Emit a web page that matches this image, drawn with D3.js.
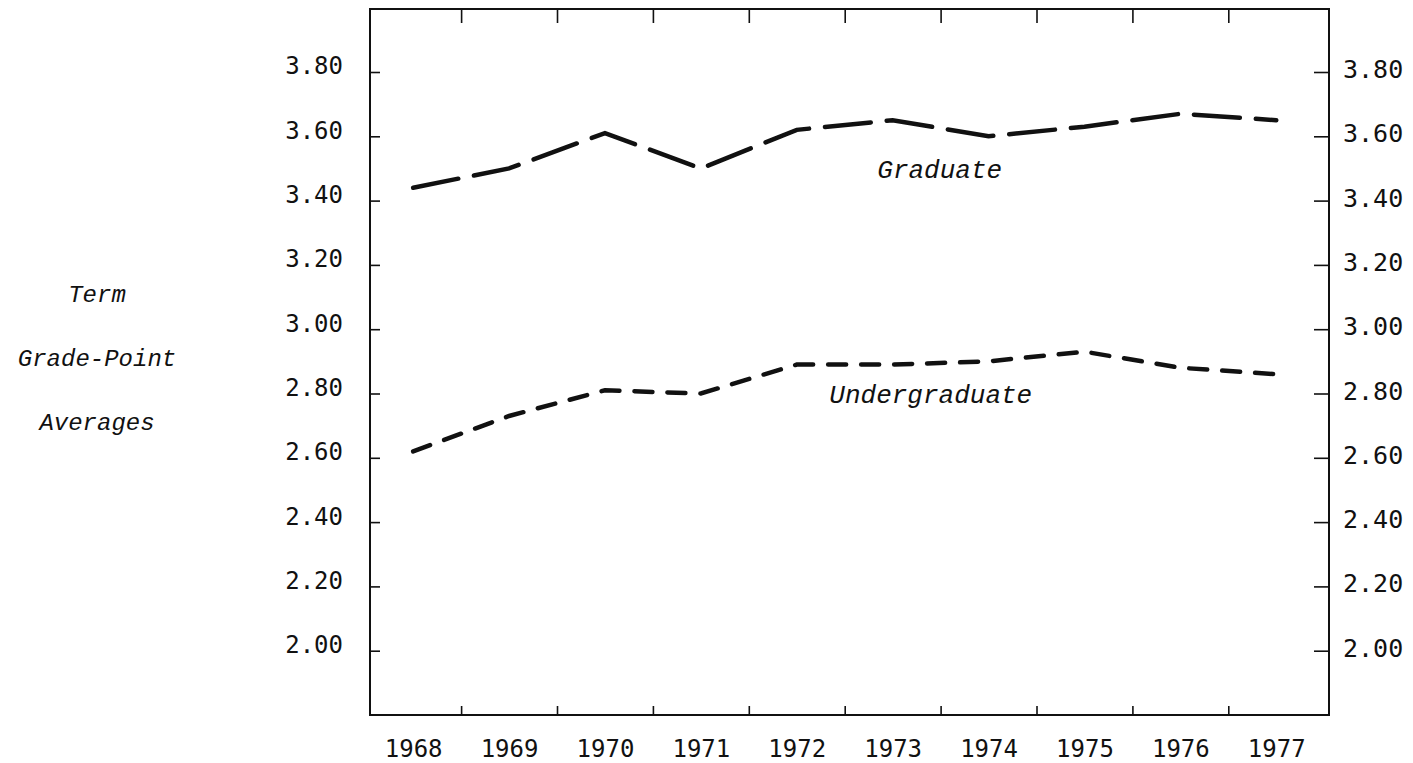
<!DOCTYPE html>
<html>
<head>
<meta charset="utf-8">
<script src="https://cdn.jsdelivr.net/npm/d3@7"></script>
<style>
  body { margin: 0; background: #fff; }
  .tick text { font-family: "DejaVu Sans Mono", monospace; fill: #111; }
  .lbl { font-family: "Liberation Mono", "Courier New", monospace; font-style: italic; fill: #111; }
</style>
</head>
<body>
<div id="chart"></div>
<script>
const years = [1968, 1969, 1970, 1971, 1972, 1973, 1974, 1975, 1976, 1977];
const graduate = [3.44, 3.50, 3.61, 3.50, 3.62, 3.65, 3.60, 3.63, 3.67, 3.65];
const undergraduate = [2.62, 2.73, 2.81, 2.80, 2.89, 2.89, 2.90, 2.93, 2.88, 2.86];
const yTicks = [2.0, 2.2, 2.4, 2.6, 2.8, 3.0, 3.2, 3.4, 3.6, 3.8];
const midTicks = [1968.5, 1969.5, 1970.5, 1971.5, 1972.5, 1973.5, 1974.5, 1975.5, 1976.5];
const titleLines = ["Term", "Grade-Point", "Averages"];
const seriesLabels = [
  { text: "Graduate", year: 1972.84, value: 3.47 },
  { text: "Undergraduate", year: 1972.34, value: 2.771 }
];

const W = 1413, H = 763;
const frame = { left: 370, right: 1329, top: 9, bottom: 715 };

const svg = d3.select("#chart")
  .append("svg")
  .attr("width", W)
  .attr("height", H);

const x = d3.scaleLinear()
  .domain([1967.55, 1977.55])
  .range([frame.left, frame.right]);

const y = d3.scaleLinear()
  .domain([1.8, 3.8])
  .range([frame.bottom, 72]);

// frame
svg.append("rect")
  .attr("x", frame.left)
  .attr("y", frame.top)
  .attr("width", frame.right - frame.left)
  .attr("height", frame.bottom - frame.top)
  .attr("fill", "none")
  .attr("stroke", "#111")
  .attr("stroke-width", 2);

// left axis
const gl = svg.append("g")
  .attr("transform", `translate(${frame.left},0)`)
  .call(d3.axisLeft(y).tickValues(yTicks).tickFormat(d3.format(".2f")).tickSize(-10).tickPadding(27));
gl.select(".domain").remove();
gl.selectAll(".tick text").style("font-size", "24px").attr("dy", "0.08em");

// right axis
const gr = svg.append("g")
  .attr("transform", `translate(${frame.right},0)`)
  .call(d3.axisRight(y).tickValues(yTicks).tickFormat(d3.format(".2f")).tickSize(-15).tickPadding(14));
gr.select(".domain").remove();
gr.selectAll(".tick text").style("font-size", "25px").attr("dy", "0.22em");

// year labels
const gb = svg.append("g")
  .attr("transform", `translate(0,${frame.bottom})`)
  .call(d3.axisBottom(x).tickValues(years).tickFormat(d3.format("d")).tickSize(0).tickPadding(25));
gb.select(".domain").remove();
gb.selectAll(".tick text").style("font-size", "24px");

// midpoint ticks bottom and top
const gbt = svg.append("g")
  .attr("transform", `translate(0,${frame.bottom})`)
  .call(d3.axisBottom(x).tickValues(midTicks).tickFormat("").tickSize(-9));
gbt.select(".domain").remove();

const gt = svg.append("g")
  .attr("transform", `translate(0,${frame.top})`)
  .call(d3.axisTop(x).tickValues(midTicks).tickFormat("").tickSize(-14));
gt.select(".domain").remove();

svg.selectAll(".tick line").attr("stroke", "#111").attr("stroke-width", 1.6);

// lines
const line = d3.line()
  .x((d, i) => x(years[i]))
  .y(d => y(d));

svg.append("path")
  .datum(graduate)
  .attr("d", line)
  .attr("fill", "none")
  .attr("stroke", "#111")
  .attr("stroke-width", 4.5)
  .attr("stroke-linecap", "round")
  .attr("stroke-dasharray", "46,16");

svg.append("path")
  .datum(undergraduate)
  .attr("d", line)
  .attr("fill", "none")
  .attr("stroke", "#111")
  .attr("stroke-width", 4.5)
  .attr("stroke-linecap", "round")
  .attr("stroke-dasharray", "18,15");

// series labels
svg.selectAll(".slbl")
  .data(seriesLabels)
  .enter()
  .append("text")
  .attr("class", "lbl")
  .attr("x", d => x(d.year))
  .attr("y", d => y(d.value))
  .style("font-size", "26px")
  .text(d => d.text);

// y title
svg.selectAll(".ttl")
  .data(titleLines)
  .enter()
  .append("text")
  .attr("class", "lbl")
  .attr("x", 97)
  .attr("y", (d, i) => 302 + i * 64)
  .attr("text-anchor", "middle")
  .style("font-size", "24px")
  .text(d => d);
</script>
</body>
</html>
